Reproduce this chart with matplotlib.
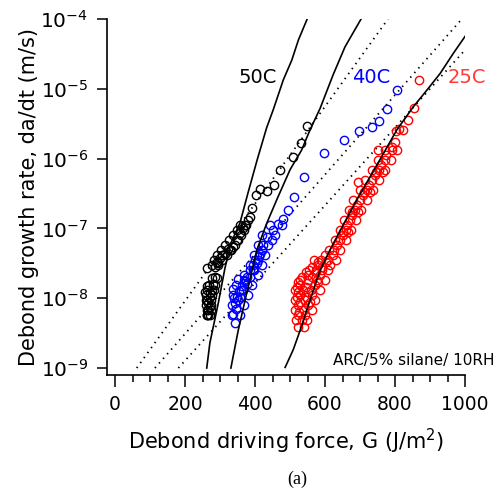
import matplotlib
matplotlib.use("Agg")
import matplotlib.pyplot as plt
from matplotlib.ticker import MultipleLocator, FixedLocator, LogFormatterMathtext, NullLocator

# ---------------- data ----------------
# 50C measured points: G (J/m^2), da/dt (m/s)
g50 = [548, 530, 508, 471, 453, 433, 414, 402, 390, 386, 381, 371, 367, 357, 348, 338,
       324, 314, 300, 290, 305, 329, 295, 286, 262, 286, 281, 276, 257, 271, 267, 267,
       267, 262, 271, 262, 271, 262,
       357, 374, 349, 369, 337, 360, 326, 351, 314, 343, 303, 331, 291, 320, 283, 306,
       277, 294, 277, 291, 269, 286, 263, 283, 260, 277, 260, 274, 260, 274, 263, 274,
       263, 271]
r50 = [2.95e-6, 1.70e-6, 1.07e-6, 6.92e-7, 4.17e-7, 3.39e-7, 3.63e-7, 3.02e-7, 1.95e-7,
       1.48e-7, 1.32e-7, 1.12e-7, 1.00e-7, 8.51e-8, 6.76e-8, 5.50e-8, 5.13e-8, 4.37e-8,
       3.72e-8, 3.31e-8, 4.17e-8, 4.90e-8, 3.16e-8, 2.82e-8, 2.69e-8, 2.04e-8, 1.62e-8,
       1.32e-8, 1.23e-8, 1.05e-8, 8.51e-9, 6.76e-9, 5.75e-9, 1.48e-8, 1.17e-8, 9.33e-9,
       7.59e-9, 5.75e-9,
       1.12e-7, 1.12e-7, 9.48e-8, 9.48e-8, 8.04e-8, 8.04e-8, 6.82e-8, 6.82e-8, 5.78e-8,
       5.78e-8, 4.91e-8, 4.91e-8, 4.16e-8, 4.16e-8, 3.52e-8, 3.52e-8, 2.99e-8, 2.99e-8,
       1.95e-8, 1.95e-8, 1.55e-8, 1.55e-8, 1.31e-8, 1.31e-8, 1.11e-8, 1.11e-8, 9.42e-9,
       9.42e-9, 8.00e-9, 8.00e-9, 6.78e-9, 6.78e-9, 5.74e-9, 5.74e-9]

# 40C measured points
g40 = [805, 776, 754, 733, 697, 655, 598, 540, 511, 493, 479, 467, 452, 433, 448, 424,
       419, 410, 405, 395, 386, 352, 376, 367, 338, 357, 343, 338, 343, 376, 362, 348,
       386, 400, 414, 340, 345, 355, 370, 395,
       443, 477, 420, 457, 409, 437, 397, 429, 386, 420, 369, 409, 346, 391, 337, 380,
       334, 369, 334, 357, 369, 360, 351, 397, 409, 420]
r40 = [9.55e-6, 5.13e-6, 3.47e-6, 2.82e-6, 2.51e-6, 1.86e-6, 1.20e-6, 5.37e-7, 2.82e-7,
       1.82e-7, 1.38e-7, 1.17e-7, 9.55e-8, 7.59e-8, 6.76e-8, 5.75e-8, 4.90e-8, 3.98e-8,
       3.16e-8, 2.51e-8, 2.04e-8, 1.86e-8, 1.62e-8, 1.32e-8, 1.35e-8, 1.05e-8, 8.51e-9,
       6.03e-9, 4.37e-9, 2.04e-8, 1.48e-8, 1.05e-8, 2.51e-8, 3.55e-8, 4.37e-8, 1.00e-8,
       7.08e-9, 1.26e-8, 1.78e-8, 3.02e-8,
       1.12e-7, 1.12e-7, 8.04e-8, 8.04e-8, 5.78e-8, 5.78e-8, 4.16e-8, 4.16e-8, 2.99e-8,
       2.99e-8, 2.15e-8, 2.15e-8, 1.55e-8, 1.55e-8, 1.11e-8, 1.11e-8, 8.00e-9, 8.00e-9,
       5.74e-9, 5.74e-9, 1.82e-8, 1.31e-8, 9.42e-9, 2.54e-8, 3.52e-8, 4.91e-8]

# 25C measured points
g25 = [869, 855, 838, 824, 810, 803, 800, 790, 752, 695,
       771, 791, 806, 751, 770, 789, 734, 753, 771, 714, 734, 754, 700, 719, 737,
       680, 700, 720, 669, 686, 703, 654, 671, 689, 643, 659, 674, 629, 644, 660,
       611, 627, 643, 569, 589, 609, 631, 554, 573, 591, 609, 529, 551, 576, 600,
       514, 537, 561, 586, 514, 543, 571, 514, 539, 563, 517, 533, 549, 523, 540,
       774, 760, 743, 726, 709, 691, 677, 663, 651, 634, 600, 623, 580, 614,
       551, 586, 529, 571, 529, 563, 523, 551, 523, 543,
       580, 603, 563, 591, 546, 574, 534, 563, 523, 580, 520, 546, 523, 551, 520, 546,
       529, 557, 526, 677, 694, 651, 666, 711, 729, 746, 766]
r25 = [1.35e-5, 5.37e-6, 3.63e-6, 2.57e-6, 2.69e-6, 2.51e-6, 1.74e-6, 1.48e-6, 1.32e-6,
       4.57e-7,
       1.33e-6, 1.33e-6, 1.33e-6, 9.55e-7, 9.55e-7, 9.55e-7, 6.87e-7, 6.87e-7, 6.87e-7,
       4.93e-7, 4.93e-7, 4.93e-7, 3.55e-7, 3.55e-7, 3.55e-7, 2.55e-7, 2.55e-7, 2.55e-7,
       1.84e-7, 1.84e-7, 1.84e-7, 1.32e-7, 1.32e-7, 1.32e-7, 9.48e-8, 9.48e-8, 9.48e-8,
       6.82e-8, 6.82e-8, 6.82e-8, 4.91e-8, 4.91e-8, 4.91e-8, 3.52e-8, 3.52e-8, 3.52e-8,
       3.52e-8, 2.54e-8, 2.54e-8, 2.54e-8, 2.54e-8, 1.82e-8, 1.82e-8, 1.82e-8, 1.82e-8,
       1.31e-8, 1.31e-8, 1.31e-8, 1.31e-8, 9.42e-9, 9.42e-9, 9.42e-9, 6.78e-9, 6.78e-9,
       6.78e-9, 4.88e-9, 4.88e-9, 4.88e-9, 3.86e-9, 3.86e-9,
       1.13e-6, 8.09e-7, 5.82e-7, 4.19e-7, 3.02e-7, 2.16e-7, 1.56e-7, 1.12e-7, 8.04e-8,
       5.78e-8, 4.16e-8, 4.16e-8, 2.99e-8, 2.99e-8, 2.15e-8, 2.15e-8, 1.55e-8, 1.55e-8,
       1.11e-8, 1.11e-8, 8.00e-9, 8.00e-9, 5.74e-9, 5.74e-9,
       3.30e-8, 3.30e-8, 2.80e-8, 2.80e-8, 2.37e-8, 2.37e-8, 2.01e-8, 2.01e-8, 1.71e-8,
       1.71e-8, 1.45e-8, 1.45e-8, 1.23e-8, 1.23e-8, 1.04e-8, 1.04e-8, 8.83e-9, 8.83e-9,
       6.34e-9, 1.72e-7, 1.72e-7, 8.87e-8, 8.87e-8, 3.32e-7, 3.32e-7, 6.43e-7, 6.43e-7]

# model curves (solid)
fit50_g = [262, 271, 295, 314, 331, 357, 380, 406, 433, 452, 481, 505, 524, 549]
fit50_r = [1.00e-9, 2.29e-9, 8.51e-9, 2.69e-8, 6.17e-8, 1.20e-7, 3.24e-7, 9.55e-7,
           2.75e-6, 5.01e-6, 1.35e-5, 2.57e-5, 5.01e-5, 1.00e-4]
fit40_g = [331, 352, 376, 405, 433, 462, 500, 533, 557, 586, 623, 657, 703]
fit40_r = [1.00e-9, 3.47e-9, 1.17e-8, 4.90e-8, 1.17e-7, 2.57e-7, 6.92e-7, 1.32e-6,
           2.57e-6, 5.25e-6, 1.58e-5, 3.98e-5, 1.00e-4]
fit25_g = [486, 509, 529, 557, 586, 614, 654, 694, 729, 762, 805, 852, 891, 929, 967, 1000]
fit25_r = [1.02e-9, 1.82e-9, 3.47e-9, 9.33e-9, 2.51e-8, 4.90e-8, 1.17e-7, 2.75e-7,
           5.50e-7, 1.07e-6, 2.57e-6, 5.50e-6, 9.55e-6, 1.66e-5, 3.24e-5, 5.62e-5]

# dotted guide lines (endpoints)
dot1_g = [62, 780]
dot1_r = [1e-9, 1e-4]
dot2_g = [114, 991]
dot2_r = [1e-9, 1e-4]
dot3_g = [181, 1000]
dot3_r = [1e-9, 3.6e-5]

xticks = [0, 200, 400, 600, 800, 1000]
yticks = [1e-9, 1e-8, 1e-7, 1e-6, 1e-5, 1e-4]

# ---------------- figure ----------------
W, H = 502, 494
fig = plt.figure(figsize=(W / 100, H / 100), dpi=100)
ax = fig.add_axes([107 / W, 1 - 375 / H, (465 - 107) / W, (375 - 19) / H])
ax.set_yscale('log')
ax.set_xlim(-23, 1000)
ax.set_ylim(10 ** -9.1, 1e-4)

dot_style = dict(color='black', lw=1.3, linestyle=(0, (0.8, 2.6)))
ax.plot(dot1_g, dot1_r, **dot_style)
ax.plot(dot2_g, dot2_r, **dot_style)
ax.plot(dot3_g, dot3_r, **dot_style)

mk = dict(linestyle='none', marker='o', mfc='none', ms=6.0, mew=1.0)
ax.plot(g50, r50, mec='black', **mk)
ax.plot(g40, r40, mec='#0000ff', **mk)
ax.plot(g25, r25, mec='#ff0000', **mk)

ax.plot(fit50_g, fit50_r, color='black', lw=1.2)
ax.plot(fit40_g, fit40_r, color='black', lw=1.2)
ax.plot(fit25_g, fit25_r, color='black', lw=1.2)

for s in ('top', 'right'):
    ax.spines[s].set_visible(False)
for s in ('left', 'bottom'):
    ax.spines[s].set_linewidth(1.2)

ax.xaxis.set_major_locator(FixedLocator(xticks))
ax.xaxis.set_minor_locator(MultipleLocator(50))
ax.yaxis.set_major_locator(FixedLocator(yticks))
ax.yaxis.set_minor_locator(NullLocator())
ax.yaxis.set_major_formatter(LogFormatterMathtext())
ax.tick_params(axis='x', which='major', direction='out', length=8.5, width=1.1,
               labelsize=13.5, pad=6)
ax.tick_params(axis='x', which='minor', direction='out', length=5, width=1.1)
ax.tick_params(axis='y', which='major', direction='out', length=7.5, width=1.1,
               labelsize=14.5, pad=6)

ax.set_xlabel('Debond driving force, G (J/m$^{2}$)', fontsize=15)
ax.set_ylabel('Debond growth rate, da/dt (m/s)', fontsize=15)
ax.xaxis.set_label_coords(0.5, -0.145)
ax.yaxis.set_label_coords(-0.19, 0.5)

ax.text(409, 1.47e-5, '50C', color='black', fontsize=14, ha='center', va='center')
ax.text(733, 1.47e-5, '40C', color='#0000ff', fontsize=14, ha='center', va='center')
ax.text(1005, 1.47e-5, '25C', color='#ff3b3b', fontsize=14, ha='center', va='center',
        clip_on=False)

fig.text(495 / W, 1 - 360 / H, 'ARC/5% silane/ 10RH', fontsize=11, ha='right', va='center')
fig.text(297.5 / W, 1 - 479 / H, '(a)', fontsize=13, ha='center', va='center',
         family='Liberation Serif')

fig.savefig('out.png', dpi=100)
